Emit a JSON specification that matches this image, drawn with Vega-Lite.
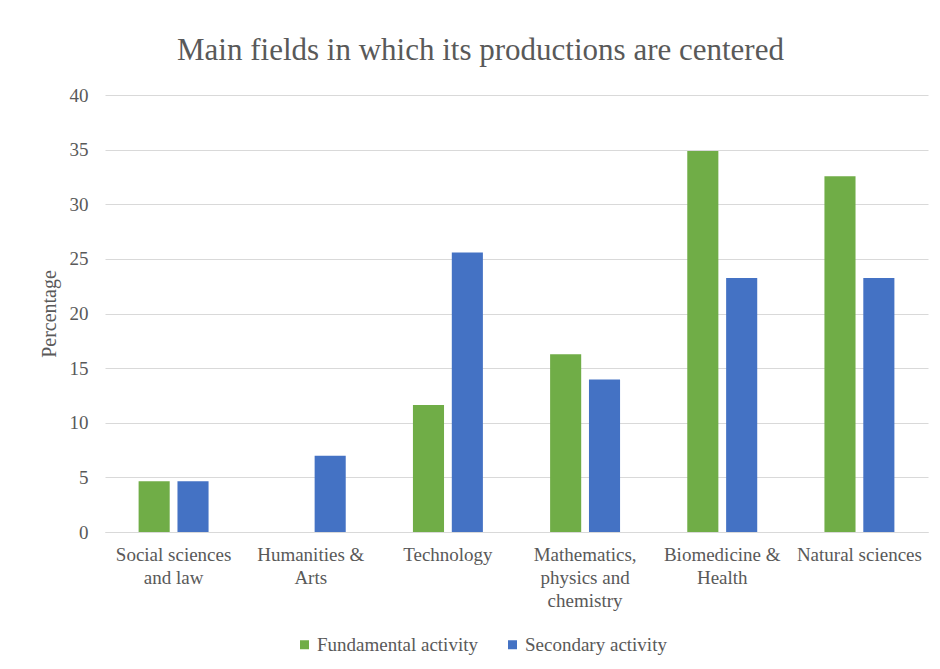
{
  "$schema": "https://vega.github.io/schema/vega-lite/v6.json",
  "width": 823,
  "height": 437,
  "autosize": {"type": "none"},
  "padding": {"left": 105, "top": 95, "right": 12, "bottom": 137},
  "background": "#ffffff",
  "title": {
    "text": "Main fields in which its productions are centered",
    "font": "Liberation Serif",
    "fontSize": 31,
    "fontWeight": "normal",
    "color": "#595959",
    "anchor": "middle",
    "baseline": "alphabetic",
    "dx": -36,
    "dy": 39,
    "offset": 34
  },
  "data": {
    "values": [
      {"field": "Social sciences and law", "activity": "Fundamental activity", "pct": 4.65},
      {"field": "Social sciences and law", "activity": "Secondary activity", "pct": 4.65},
      {"field": "Humanities & Arts", "activity": "Fundamental activity", "pct": 0},
      {"field": "Humanities & Arts", "activity": "Secondary activity", "pct": 6.98},
      {"field": "Technology", "activity": "Fundamental activity", "pct": 11.63},
      {"field": "Technology", "activity": "Secondary activity", "pct": 25.58},
      {"field": "Mathematics, physics and chemistry", "activity": "Fundamental activity", "pct": 16.28},
      {"field": "Mathematics, physics and chemistry", "activity": "Secondary activity", "pct": 13.95},
      {"field": "Biomedicine & Health", "activity": "Fundamental activity", "pct": 34.88},
      {"field": "Biomedicine & Health", "activity": "Secondary activity", "pct": 23.26},
      {"field": "Natural sciences", "activity": "Fundamental activity", "pct": 32.56},
      {"field": "Natural sciences", "activity": "Secondary activity", "pct": 23.26}
    ]
  },
  "mark": {"type": "bar"},
  "encoding": {
    "x": {
      "field": "field",
      "type": "nominal",
      "sort": null,
      "scale": {"paddingInner": 0.49, "paddingOuter": 0.245},
      "axis": {
        "title": null,
        "labelAngle": 0,
        "ticks": false,
        "domainColor": "#d9d9d9",
        "domainWidth": 1,
        "labelFont": "Liberation Serif",
        "labelFontSize": 19,
        "labelColor": "#595959",
        "labelPadding": 13,
        "labelLineHeight": 23,
        "labelLimit": 200,
        "labelExpr": "datum.value == 'Social sciences and law' ? ['Social sciences', 'and law'] : datum.value == 'Humanities & Arts' ? ['Humanities &', 'Arts'] : datum.value == 'Mathematics, physics and chemistry' ? ['Mathematics,', 'physics and', 'chemistry'] : datum.value == 'Biomedicine & Health' ? ['Biomedicine &', 'Health'] : datum.value"
      }
    },
    "xOffset": {
      "field": "activity",
      "type": "nominal",
      "scale": {"paddingInner": 0.2, "paddingOuter": 0}
    },
    "y": {
      "field": "pct",
      "type": "quantitative",
      "scale": {"domain": [0, 40], "nice": false},
      "axis": {
        "title": "Percentage",
        "values": [0, 5, 10, 15, 20, 25, 30, 35, 40],
        "ticks": false,
        "domain": false,
        "gridColor": "#d9d9d9",
        "gridWidth": 1,
        "labelFont": "Liberation Serif",
        "labelFontSize": 19,
        "labelColor": "#595959",
        "labelPadding": 17,
        "titleFont": "Liberation Serif",
        "titleFontSize": 20,
        "titleFontWeight": "normal",
        "titleColor": "#595959",
        "titlePadding": 10
      }
    },
    "color": {
      "field": "activity",
      "type": "nominal",
      "scale": {
        "domain": ["Fundamental activity", "Secondary activity"],
        "range": ["#70ad47", "#4472c4"]
      },
      "legend": {
        "title": null,
        "orient": "none",
        "direction": "horizontal",
        "legendX": 190,
        "legendY": 540,
        "symbolType": "square",
        "symbolSize": 81,
        "symbolStrokeWidth": 0,
        "labelFont": "Liberation Serif",
        "labelFontSize": 19,
        "labelColor": "#595959",
        "labelLimit": 400,
        "columnPadding": 25,
        "labelOffset": 3
      }
    }
  },
  "config": {
    "view": {"stroke": null}
  }
}
